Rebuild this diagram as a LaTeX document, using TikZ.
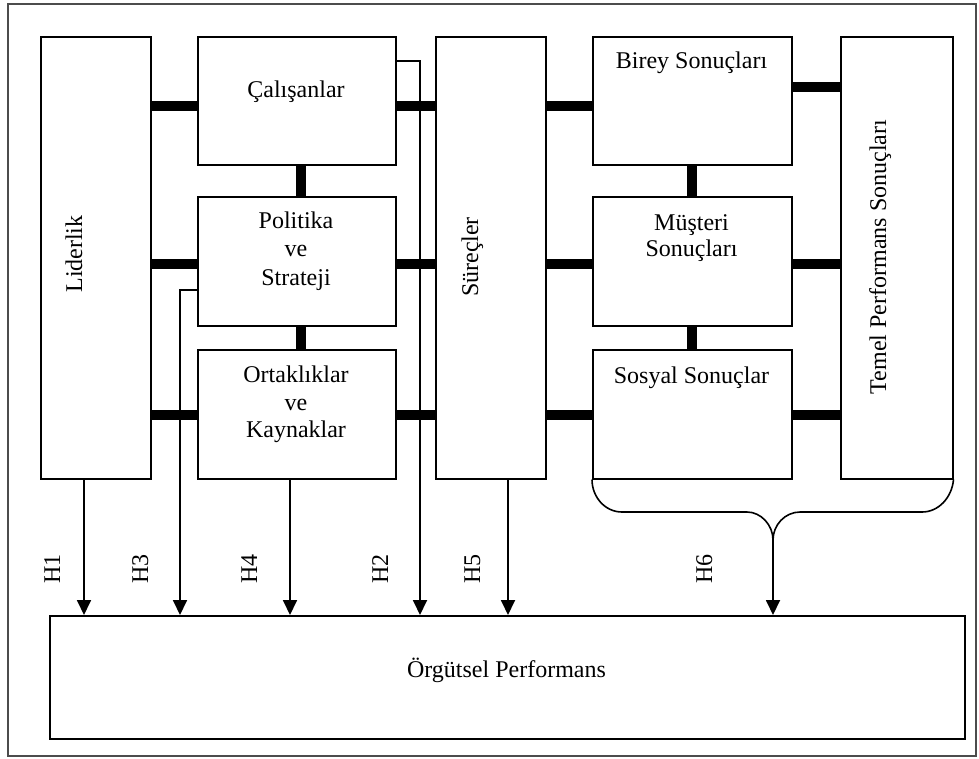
\documentclass[tikz,border=0pt]{standalone}
\usepackage{fontspec}
\setmainfont{Liberation Serif}
\usetikzlibrary{arrows.meta}
\begin{document}
\begin{tikzpicture}[x=1pt,y=-1pt,
  box/.style={draw, line width=1.5pt, fill=white, inner sep=0pt, anchor=north west},
  bar/.style={line width=10pt},
  lbl/.style={font=\fontsize{24}{28}\selectfont, inner sep=0pt, anchor=base},
  vlbl/.style={lbl, rotate=90},
  arr/.style={line width=1.8pt, -{Triangle[width=14pt,length=15pt]}},
  wire/.style={line width=1.6pt}]
\useasboundingbox (0,0) rectangle (979,758);
\draw[line width=1.2pt, black!70] (8,4) rectangle (976,756);
% boxes
\node[box, minimum width=110pt, minimum height=442pt] (lid) at (40,36) {};
\node[box, minimum width=198pt, minimum height=128pt] (cal) at (197,36) {};
\node[box, minimum width=198pt, minimum height=129pt] (pol) at (197,196) {};
\node[box, minimum width=198pt, minimum height=129pt] (ort) at (197,349) {};
\node[box, minimum width=110pt, minimum height=442pt] (sur) at (435,36) {};
\node[box, minimum width=199pt, minimum height=128pt] (bir) at (592,36) {};
\node[box, minimum width=199pt, minimum height=129pt] (mus) at (592,196) {};
\node[box, minimum width=199pt, minimum height=129pt] (sos) at (592,349) {};
\node[box, minimum width=112pt, minimum height=442pt] (tem) at (840,36) {};
\node[box, minimum width=915pt, minimum height=123pt] (org) at (49,615) {};
% thick bars
\draw[bar] (lid.east |- 0,106) -- (cal.west |- 0,106);
\draw[bar] (cal.east |- 0,106) -- (sur.west |- 0,106);
\draw[bar] (sur.east |- 0,106) -- (bir.west |- 0,106);
\draw[bar] (bir.east |- 0,87) -- (tem.west |- 0,87);
\draw[bar] (lid.east |- 0,264) -- (pol.west |- 0,264);
\draw[bar] (pol.east |- 0,264) -- (sur.west |- 0,264);
\draw[bar] (sur.east |- 0,264) -- (mus.west |- 0,264);
\draw[bar] (mus.east |- 0,264) -- (tem.west |- 0,264);
\draw[bar] (lid.east |- 0,415) -- (ort.west |- 0,415);
\draw[bar] (ort.east |- 0,415) -- (sur.west |- 0,415);
\draw[bar] (sur.east |- 0,415) -- (sos.west |- 0,415);
\draw[bar] (sos.east |- 0,415) -- (tem.west |- 0,415);
\draw[bar] (cal.south -| 301,0) -- (pol.north -| 301,0);
\draw[bar] (pol.south -| 301,0) -- (ort.north -| 301,0);
\draw[bar] (bir.south -| 692,0) -- (mus.north -| 692,0);
\draw[bar] (mus.south -| 692,0) -- (sos.north -| 692,0);
% texts
\node[vlbl] (tlid) at (82,254) {Liderlik};
\node[vlbl] (tsur) at (478,257) {Süreçler};
\node[vlbl] (ttem) at (886,257) {Temel Performans Sonuçları};
\node[lbl] (tcal) at (296,97) {Çalışanlar};
\node[lbl] (tpol1) at (296,228) {Politika};
\node[lbl] (tpol2) at (296,256) {ve};
\node[lbl] (tpol3) at (296,285) {Strateji};
\node[lbl] (tort1) at (296,382) {Ortaklıklar};
\node[lbl] (tort2) at (296,410) {ve};
\node[lbl] (tort3) at (296,437) {Kaynaklar};
\node[lbl] (tbir) at (691.5,68) {Birey Sonuçları};
\node[lbl] (tmus1) at (691.5,230) {Müşteri};
\node[lbl] (tmus2) at (691.5,256) {Sonuçları};
\node[lbl] (tsos) at (691.5,383) {Sosyal Sonuçlar};
\node[lbl] (torg) at (506.5,677) {Örgütsel Performans};
\node[vlbl] (h1) at (60,569) {H1};
\node[vlbl] (h3) at (148,569) {H3};
\node[vlbl] (h4) at (257,569) {H4};
\node[vlbl] (h2) at (388,569) {H2};
\node[vlbl] (h5) at (480,569) {H5};
\node[vlbl] (h6) at (712,569) {H6};
% connectors
\draw[arr] (cal.east |- 0,61) -| (org.north -| 420,0);
\draw[arr] (pol.west |- 0,290) -| (org.north -| 180,0);
\draw[arr] (lid.south -| 84,0) -- (org.north -| 84,0);
\draw[arr] (ort.south -| 290,0) -- (org.north -| 290,0);
\draw[arr] (sur.south -| 508,0) -- (org.north -| 508,0);
% brace
\coordinate (tip) at (773,540);
\draw[wire] (sos.south west) .. controls (592,497) and (605,512) .. (622,512)
  -- (747,512) .. controls (761,512) and (773,525) .. (tip)
  .. controls (773,525) and (785,512) .. (800,512)
  -- (922,512) .. controls (939,512) and (952,497) .. (tem.south east);
\draw[arr] (tip) -- (org.north -| tip);
\end{tikzpicture}
\end{document}
